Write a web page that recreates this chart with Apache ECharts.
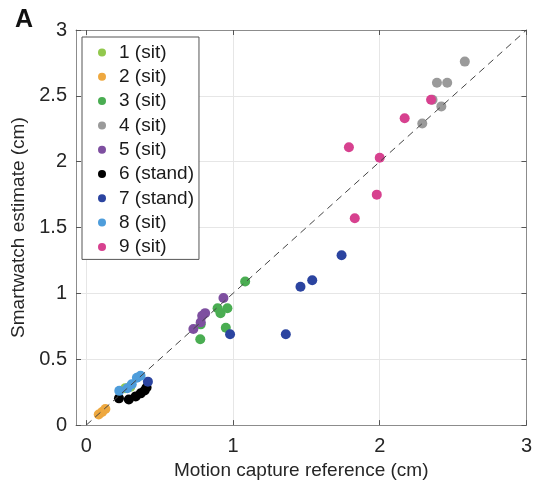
<!DOCTYPE html>
<html>
<head>
<meta charset="utf-8">
<script src="https://cdn.jsdelivr.net/npm/echarts@6/dist/echarts.min.js"></script>
<style>html,body{margin:0;padding:0;background:#fff}#c{width:535px;height:485px}</style>
</head>
<body>
<div id="c"></div>
<script>
const subjectNames = ['1 (sit)','2 (sit)','3 (sit)','4 (sit)','5 (sit)','6 (stand)','7 (stand)','8 (sit)','9 (sit)'];
const subject1 = [[0.265,0.28],[0.30,0.29]];
const subject2 = [[0.085,0.08],[0.108,0.100],[0.13,0.122]];
const subject3 = [[1.083,1.09],[0.895,0.887],[0.915,0.85],[0.962,0.887],[0.951,0.739],[0.777,0.652],[0.78,0.765]];
const subject4 = [[2.58,2.76],[2.39,2.60],[2.46,2.60],[2.36,2.47],[2.42,2.42],[2.29,2.29]];
const subject5 = [[0.935,0.965],[0.81,0.85],[0.79,0.83],[0.78,0.78],[0.73,0.73]];
const subject6 = [[0.223,0.203],[0.29,0.195],[0.337,0.218],[0.371,0.241],[0.398,0.263],[0.411,0.286]];
const subject7 = [[0.42,0.33],[0.98,0.69],[1.36,0.69],[1.46,1.05],[1.54,1.10],[1.74,1.29]];
const subject8 = [[0.225,0.26],[0.28,0.28],[0.31,0.31],[0.345,0.36],[0.37,0.375]];
const subject9 = [[2.35,2.47],[2.17,2.33],[1.79,2.11],[2.00,2.03],[1.98,1.75],[1.83,1.57]];
const identityLine = [[0,0],[3,3]];
const xTicks = [0,1,2,3];
const colors = ['#92c84d','#eea83f','#4aad52','#9a9a9a','#7e4fa0','#000000','#2b44a0','#4e9ddb','#d7418f'];
const allData = [subject1,subject2,subject3,subject4,subject5,subject6,subject7,subject8,subject9];

const font = "'Liberation Sans', Arial, Helvetica, sans-serif";
const chart = echarts.init(document.getElementById('c'), null, {renderer:'canvas'});
const axisLineStyle = {color:'#8c8c8c', width:1};
const tickStyle = {color:'#555', width:1};
const series = allData.map((d,i)=>({
  name: subjectNames[i], type:'scatter', data:d, symbolSize:10,
  itemStyle:{color:colors[i], opacity:1}, z:2+i
}));
series.push({
  type:'line', data:identityLine, showSymbol:false, symbol:'none', silent:true, z:20,
  lineStyle:{color:'#444', width:1, type:[7,5]}
});
chart.setOption({
  animation:false,
  textStyle:{fontFamily:font},
  grid:{left:76, right:6, top:30, bottom:55, containLabel:false},
  graphic:[{type:'text', left:15, top:8, style:{text:'A', font:"bold 25px "+font, fill:'#111'}}],
  legend:{
    data:subjectNames, orient:'vertical', left:82, top:37,
    backgroundColor:'#fff', borderColor:'#555', borderWidth:1,
    padding:[6,5,3,16], itemWidth:24, itemHeight:8, itemGap:5.3, icon:'circle',
    textStyle:{fontSize:19, lineHeight:19, color:'#1a1a1a', fontFamily:font}
  },
  xAxis:[{
    type:'value', min:-0.07, max:3, position:'bottom',
    name:'Motion capture reference (cm)', nameLocation:'middle', nameGap:30,
    nameTextStyle:{fontSize:19, color:'#262626', fontFamily:font},
    axisLine:{show:true, onZero:false, lineStyle:axisLineStyle},
    axisTick:{show:true, inside:true, length:5, customValues:xTicks, lineStyle:tickStyle},
    axisLabel:{customValues:xTicks, fontSize:20, color:'#262626', margin:11, fontFamily:font},
    splitLine:{show:true, lineStyle:{color:'#e6e6e6', width:1}}
  },{
    type:'value', min:-0.07, max:3, position:'top',
    axisLine:{show:true, onZero:false, lineStyle:axisLineStyle},
    axisTick:{show:true, inside:true, length:5, customValues:xTicks, lineStyle:tickStyle},
    axisLabel:{show:false}, splitLine:{show:false}
  }],
  yAxis:[{
    type:'value', min:0, max:3, interval:0.5, position:'left',
    name:'Smartwatch estimate (cm)', nameLocation:'middle', nameGap:48,
    nameTextStyle:{fontSize:19, color:'#262626', fontFamily:font},
    axisLine:{show:true, onZero:false, lineStyle:axisLineStyle},
    axisTick:{show:true, inside:true, length:5, lineStyle:tickStyle},
    axisLabel:{fontSize:20, color:'#262626', margin:9, fontFamily:font},
    splitLine:{show:true, lineStyle:{color:'#e6e6e6', width:1}}
  },{
    type:'value', min:0, max:3, interval:0.5, position:'right',
    axisLine:{show:true, onZero:false, lineStyle:axisLineStyle},
    axisTick:{show:true, inside:true, length:5, lineStyle:tickStyle},
    axisLabel:{show:false}, splitLine:{show:false}
  }],
  series:series
});
</script>
</body>
</html>
